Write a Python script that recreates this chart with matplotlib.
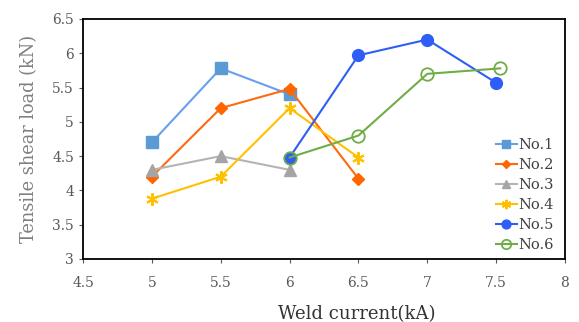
import matplotlib
matplotlib.use("Agg")
import matplotlib.pyplot as plt

x1 = [5, 5.5, 6]
y1 = [4.7, 5.78, 5.4]
x2 = [5, 5.5, 6, 6.5]
y2 = [4.2, 5.2, 5.48, 4.17]
x3 = [5, 5.5, 6]
y3 = [4.3, 4.5, 4.3]
x4 = [5, 5.5, 6, 6.5]
y4 = [3.88, 4.2, 5.2, 4.48]
x5 = [6, 6.5, 7, 7.5]
y5 = [4.48, 5.97, 6.2, 5.57]
x6 = [6, 6.5, 7, 7.53]
y6 = [4.48, 4.8, 5.7, 5.78]
labels = ["No.1", "No.2", "No.3", "No.4", "No.5", "No.6"]
xticks = [4.5, 5, 5.5, 6, 6.5, 7, 7.5, 8]
yticks = [3, 3.5, 4, 4.5, 5, 5.5, 6, 6.5]

plt.rcParams['font.family'] = ['DejaVu Serif']

fig = plt.figure(figsize=(5.79, 3.22), dpi=100)
ax = fig.add_axes([0.1434, 0.1957, 0.8324, 0.7453])

ax.plot(x1, y1, color='#6A9EF0', lw=1.5, marker='s', ms=8, mfc='#5B9BD5', mec='#5B9BD5', label=labels[0])
ax.plot(x2, y2, color='#FF6A10', lw=1.5, marker='D', ms=6, mfc='#FF6600', mec='#FF6600', label=labels[1])
ax.plot(x3, y3, color='#B4B4B4', lw=1.5, marker='^', ms=8, mfc='#A5A5A5', mec='#A5A5A5', label=labels[2])
ax.plot(x4, y4, color='#FFC000', lw=1.5, marker=(6, 2, 0), ms=9, mew=1.5, mec='#FFC000', label=labels[3])
ax.plot(x5, y5, color='#2E5EF5', lw=1.5, marker='o', ms=8.5, mfc='#2E5EF5', mec='#2E5EF5', label=labels[4])
ax.plot(x6, y6, color='#70AD47', lw=1.5, marker='o', ms=9, mfc='none', mec='#70AD47', mew=1.3, label=labels[5])

ax.set_xlim(4.5, 8)
ax.set_ylim(3, 6.5)
ax.set_xticks(xticks)
ax.set_xticklabels([f"{v:g}" for v in xticks])
ax.set_yticks(yticks)
ax.set_yticklabels([f"{v:g}" for v in yticks])
ax.tick_params(axis='both', labelsize=10, colors='#595959', length=3, width=0.8, direction='out')
ax.tick_params(axis='x', pad=9)
for s in ax.spines.values():
    s.set_color('black')
    s.set_linewidth(1.3)

ax.set_xlabel("Weld current(kA)", fontsize=13, color='#333333')
ax.xaxis.set_label_coords(0.568, -0.19)
ax.set_ylabel("Tensile shear load (kN)", fontsize=12.8, color='#808080', labelpad=10)

leg = ax.legend(loc='lower right', frameon=False, fontsize=10.5, handlelength=1.5,
                handletextpad=0.05, labelspacing=0.42, borderaxespad=0.05,
                bbox_to_anchor=(0.99, 0.0), markerscale=0.75)
for t in leg.get_texts():
    t.set_color('#404040')

fig.savefig("out.png", dpi=100)
